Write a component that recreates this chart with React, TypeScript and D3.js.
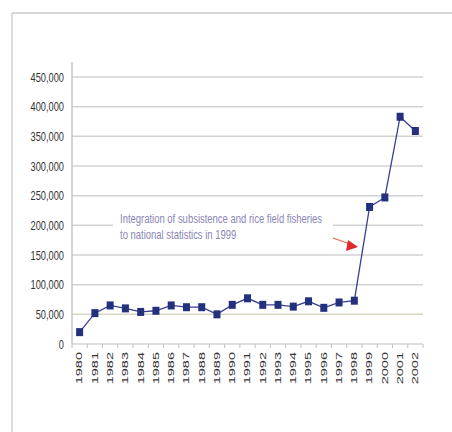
import React from "react";
import * as d3 from "d3";

const years = ["1980","1981","1982","1983","1984","1985","1986","1987","1988","1989","1990","1991","1992","1993","1994","1995","1996","1997","1998","1999","2000","2001","2002"];
const catch_ = [20000, 52000, 65000, 60000, 54000, 56000, 65000, 62000, 62000, 50000, 66000, 77000, 66000, 66000, 63000, 72000, 61000, 70000, 73000, 231000, 247000, 383000, 359000];
const yTicks = [0, 50000, 100000, 150000, 200000, 250000, 300000, 350000, 400000, 450000];
const noteLines = ["Integration of subsistence and rice field fisheries", "to national statistics in 1999"];

const W = 452, H = 432;
const left = 72, right = 423, top = 77, bottom = 344;

export default function App() {
  const x = d3.scaleBand<string>().domain(years).range([left, right]).padding(0);
  const y = d3.scaleLinear().domain([0, 450000]).range([bottom, top]);
  const cx = (d: string) => (x(d) as number) + x.bandwidth() / 2;
  const line = d3.line<number>().x((_, i) => cx(years[i])).y((d) => y(d));
  const fmt = d3.format(",");
  const font = "'Liberation Sans', Arial, sans-serif";
  const boundaries = years.map((d) => x(d) as number).concat([right]);
  const noteY = y(200000);

  return (
    <svg width={W} height={H} style={{ position: "absolute", left: 0, top: 0, background: "#fff" }}>
      <rect x={0} y={0} width={W} height={H} fill="#fff" />
      {/* frame */}
      <line x1={12} y1={13} x2={W} y2={13} stroke="#c8c8c8" strokeWidth={1.5} />
      <line x1={12} y1={13} x2={12} y2={H} stroke="#d0d0d0" strokeWidth={1.5} />
      {/* gridlines */}
      {yTicks.filter((t) => t > 0).map((t) => (
        <line key={t} x1={left} x2={right} y1={y(t)} y2={y(t)}
          stroke={t === 50000 ? "#d9d5c2" : "#d2d2d2"} strokeWidth={1.5} />
      ))}
      {/* annotation box */}
      <rect x={113} y={noteY - 22} width={220} height={42} fill="#fff" />
      {noteLines.map((s, i) => (
        <g key={i} transform={`translate(120,${noteY + 2 + i * 16 - 4}) scale(0.79,1)`}>
          <text x={0} y={0} fontFamily={font} fontSize={12} fill="#8a86b6">{s}</text>
        </g>
      ))}
      {/* red arrow */}
      <line x1={333} y1={y(150000) - 17} x2={350} y2={y(150000) - 11} stroke="#e8605a" strokeWidth={1.3} />
      <path d={`M${358},${y(150000) - 8} L${348},${y(150000) - 15} L${346},${y(150000) - 4} Z`} fill="#e0282a" />
      {/* axes */}
      <line x1={left} x2={left} y1={62} y2={bottom} stroke="#b8b8b8" strokeWidth={1.2} />
      <line x1={left} x2={right} y1={bottom} y2={bottom} stroke="#c0c0c0" strokeWidth={1.2} />
      {boundaries.map((b, i) => (
        <line key={i} x1={b} x2={b} y1={bottom} y2={bottom + 4} stroke="#c0c0c0" strokeWidth={1} />
      ))}
      {yTicks.map((t) => (
        <g key={t} transform={`translate(64,${y(t)}) scale(0.74,1)`}>
          <text x={0} y={0} textAnchor="end" dominantBaseline="central" fontFamily={font} fontSize={12.5} fill="#333">{fmt(t)}</text>
        </g>
      ))}
      {years.map((d) => (
        <g key={d} transform={`translate(${cx(d)},352) scale(0.58,1) rotate(-90)`}>
          <text x={0} y={0} textAnchor="end" dominantBaseline="central" fontFamily={font} fontSize={14.5} fill="#333">{d}</text>
        </g>
      ))}
      {/* series */}
      <path d={line(catch_) as string} fill="none" stroke="#3a3f8f" strokeWidth={1.3} />
      {catch_.map((v, i) => (
        <rect key={i} x={cx(years[i]) - 3.5} y={y(v) - 4} width={7} height={8} fill="#22307e" />
      ))}
    </svg>
  );
}
